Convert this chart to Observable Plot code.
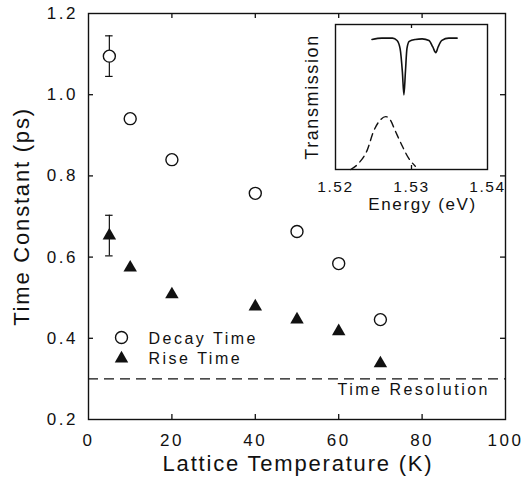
<!DOCTYPE html>
<html><head><meta charset="utf-8">
<script src="https://cdn.jsdelivr.net/npm/d3@7"></script>
<script src="https://cdn.jsdelivr.net/npm/@observablehq/plot@0.6"></script>
<style>
body{margin:0;background:#fff;}
#wrap{position:relative;width:527px;height:486px;overflow:hidden;}
#main,#inset{position:absolute;left:0;top:0;}
#inset{left:280px;}
svg text{letter-spacing:2.5px;}
.ttl text{letter-spacing:1.8px;}
#inset svg text{letter-spacing:1.6px;}
</style></head><body><div id="wrap"><div id="main"></div><div id="inset"></div></div>
<script>
// ---- main chart data ----
const temperature = [5, 10, 20, 40, 50, 60, 70];
const decayTime  = [1.095, 0.941, 0.840, 0.757, 0.663, 0.584, 0.446];
const riseTime   = [0.653, 0.574, 0.508, 0.478, 0.446, 0.417, 0.338];
const errorTemps   = [5, 5];
const errorCenters = [1.095, 0.653];
const errorHalf    = [0.05, 0.05];
const timeResolution = 0.30;
const xTicks = [0, 20, 40, 60, 80, 100];
const yTicks = [0.2, 0.4, 0.6, 0.8, 1.0, 1.2];
const legendLabels = ["Decay Time", "Rise Time"];
const xTitle = "Lattice Temperature (K)";
const yTitle = "Time Constant (ps)";
const resolutionLabel = "Time Resolution";

// ---- inset data ----
const solidEnergy = [1.5248, 1.5261, 1.5275, 1.5281, 1.5285, 1.5288, 1.5290, 1.5292, 1.5294, 1.5297, 1.5305, 1.5314, 1.5323, 1.5328, 1.5332, 1.5335, 1.5340, 1.5349, 1.5360];
const solidTrans  = [0.897, 0.906, 0.906, 0.890, 0.833, 0.673, 0.514, 0.673, 0.833, 0.884, 0.897, 0.901, 0.890, 0.845, 0.806, 0.845, 0.890, 0.906, 0.906];
const dashedEnergy = [1.5220, 1.5231, 1.5242, 1.5250, 1.5259, 1.5266, 1.5272, 1.5279, 1.5288, 1.5296, 1.5305];
const dashedTrans  = [0.0, 0.046, 0.137, 0.262, 0.342, 0.365, 0.342, 0.262, 0.160, 0.080, 0.023];
const insetXTicks = [1.52, 1.53, 1.54];
const insetXTitle = "Energy (eV)";
const insetYTitle = "Transmission";

const decay = temperature.map((t, i) => ({t, v: decayTime[i]}));
const rise = temperature.map((t, i) => ({t, v: riseTime[i]}));
const errs = errorTemps.map((t, i) => ({t, lo: errorCenters[i] - errorHalf[i], hi: errorCenters[i] + errorHalf[i]}));
const capHalf = 0.9;
const ink = "#111";
const tickLen = 5;

const W = 527, H = 486, mL = 88, mR = 22, mT = 13, mB = 67;
const fw = W - mL - mR, fh = H - mT - mB;
const inner = xTicks.slice(1, -1), innerY = yTicks.slice(1, -1);

const main = Plot.plot({
  width: W, height: H,
  marginLeft: mL, marginRight: mR, marginTop: mT, marginBottom: mB,
  style: {fontFamily: "'Liberation Sans', Arial, sans-serif", fontSize: "17px", color: ink, background: "transparent"},
  x: {domain: [0, 100]},
  y: {domain: [0.2, 1.2]},
  marks: [
    Plot.ruleY([timeResolution], {stroke: ink, strokeWidth: 1.3, strokeDasharray: "10,6"}),
    Plot.axisX(xTicks, {anchor: "bottom", tickSize: 0, tickPadding: 14, label: null, tickFormat: d => String(d)}),
    Plot.axisY(yTicks, {anchor: "left", tickSize: 0, tickPadding: 10.5, label: null, tickFormat: d => d.toFixed(1)}),
    // inward ticks on all four sides
    Plot.ruleX(inner, {x: d => d, insetTop: fh - tickLen, stroke: ink, strokeWidth: 1.3}),
    Plot.ruleX(inner, {x: d => d, insetBottom: fh - tickLen, stroke: ink, strokeWidth: 1.3}),
    Plot.ruleY(innerY, {y: d => d, insetRight: fw - tickLen, stroke: ink, strokeWidth: 1.3}),
    Plot.ruleY(innerY, {y: d => d, insetLeft: fw - tickLen, stroke: ink, strokeWidth: 1.3}),
    Plot.frame({stroke: ink, strokeWidth: 1.4}),
    Plot.ruleX(errs, {x: "t", y1: "lo", y2: "hi", stroke: ink, strokeWidth: 1.2}),
    Plot.ruleY(errs, {y: "lo", x1: d => d.t - capHalf, x2: d => d.t + capHalf, stroke: ink, strokeWidth: 1.2}),
    Plot.ruleY(errs, {y: "hi", x1: d => d.t - capHalf, x2: d => d.t + capHalf, stroke: ink, strokeWidth: 1.2}),
    Plot.dot(decay, {x: "t", y: "v", r: 6, stroke: ink, strokeWidth: 1.4, fill: "white"}),
    Plot.dot(rise, {x: "t", y: "v", r: 5, symbol: "triangle", fill: ink, stroke: "none"}),
    // legend
    Plot.dot([legendLabels[0]], {x: null, y: null, frameAnchor: "bottom-left", dx: 33, dy: -82, r: 6, stroke: ink, strokeWidth: 1.4, fill: "white"}),
    Plot.dot([legendLabels[1]], {x: null, y: null, frameAnchor: "bottom-left", dx: 33, dy: -61, r: 5, symbol: "triangle", fill: ink, stroke: "none"}),
    Plot.text([legendLabels[0]], {frameAnchor: "bottom-left", text: d => d, textAnchor: "start", lineAnchor: "middle", dx: 60, dy: -81, fontSize: 16}),
    Plot.text([legendLabels[1]], {frameAnchor: "bottom-left", text: d => d, textAnchor: "start", lineAnchor: "middle", dx: 60, dy: -61, fontSize: 16}),
    Plot.text([resolutionLabel], {frameAnchor: "bottom-right", text: d => d, textAnchor: "end", dx: -15.5, dy: -25, fontSize: 16}),
    Plot.text([xTitle], {frameAnchor: "bottom", text: d => d, dx: 1, dy: 51, fontSize: 22, className: "ttl"}),
    Plot.text([yTitle], {frameAnchor: "left", text: d => d, textAnchor: "middle", lineAnchor: "middle", dx: -67, rotate: -90, fontSize: 22, className: "ttl"})
  ]
});
document.getElementById("main").appendChild(main);

const solid = solidEnergy.map((e, i) => ({e, v: solidTrans[i]}));
const dashed = dashedEnergy.map((e, i) => ({e, v: dashedTrans[i]}));

const iW = 230, iH = 230, iL = 55, iR = 23, iT = 24, iB = 61;
const ifh = iH - iT - iB;

const inset = Plot.plot({
  width: iW, height: iH,
  marginLeft: iL, marginRight: iR, marginTop: iT, marginBottom: iB,
  style: {fontFamily: "'Liberation Sans', Arial, sans-serif", fontSize: "15.5px", color: ink, background: "transparent"},
  x: {domain: [1.52, 1.54]},
  y: {domain: [0, 1], axis: null},
  marks: [
    Plot.frame({stroke: ink, strokeWidth: 1.4}),
    Plot.axisX(insetXTicks, {anchor: "bottom", tickSize: 0, tickPadding: 11.5, label: null, tickFormat: d => d.toFixed(2)}),
    Plot.ruleX([insetXTicks[1]], {x: d => d, insetTop: ifh - 4, stroke: ink, strokeWidth: 1.3}),
    Plot.ruleX([insetXTicks[1]], {x: d => d, insetBottom: ifh - 4, stroke: ink, strokeWidth: 1.3}),
    Plot.line(solid, {x: "e", y: "v", stroke: ink, strokeWidth: 1.6, curve: "monotone-x"}),
    Plot.line(dashed, {x: "e", y: "v", stroke: ink, strokeWidth: 1.4, strokeDasharray: "7,5", curve: "monotone-x"}),
    Plot.text([insetXTitle], {frameAnchor: "bottom", text: d => d, dx: 11, dy: 40, fontSize: 17}),
    Plot.text([insetYTitle], {frameAnchor: "left", text: d => d, textAnchor: "middle", lineAnchor: "middle", dx: -23, rotate: -90, fontSize: 18})
  ]
});
document.getElementById("inset").appendChild(inset);
</script>
</body></html>
